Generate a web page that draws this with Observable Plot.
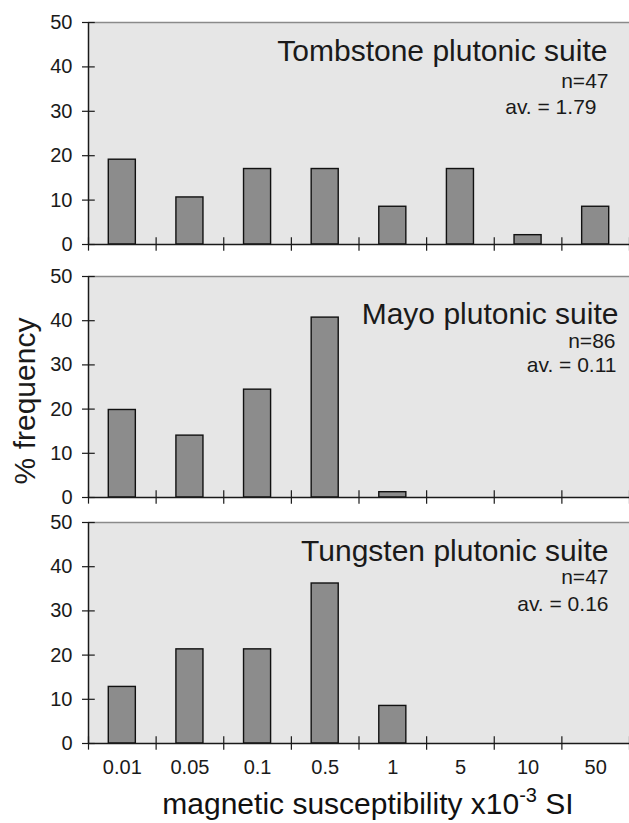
<!DOCTYPE html>
<html><head><meta charset="utf-8">
<script src="https://cdn.jsdelivr.net/npm/d3@7"></script>
<script src="https://cdn.jsdelivr.net/npm/@observablehq/plot@0.6"></script>
<style>
body{margin:0;background:#fff;font-family:"Liberation Sans",Arial,sans-serif;color:#111;}
#chart svg{display:block;overflow:visible}
#xlabel{width:629px;box-sizing:border-box;padding-left:107px;text-align:center;font-size:30px;height:38px;line-height:38px;white-space:nowrap}
#xlabel sup{font-size:20px;vertical-align:12px;line-height:0}
</style></head><body>
<div id="chart"></div>
<div id="xlabel">magnetic susceptibility x10<sup>-3</sup> SI</div>
<script>
const categories = ["0.01", "0.05", "0.1", "0.5", "1", "5", "10", "50"];
const suiteNames = ["Tombstone plutonic suite", "Mayo plutonic suite", "Tungsten plutonic suite"];
const sampleCounts = [47, 86, 47];
const averages = ["1.79", "0.11", "0.16"];
const tombstoneValues = [19.1, 10.6, 17.0, 17.0, 8.5, 17.0, 2.1, 8.5];
const mayoValues = [19.8, 14.0, 24.4, 40.7, 1.2, 0, 0, 0];
const tungstenValues = [12.8, 21.3, 21.3, 36.2, 8.5, 0, 0, 0];
const yTicks = [0, 10, 20, 30, 40, 50];
const yLabel = "% frequency";

const seriesValues = [tombstoneValues, mayoValues, tungstenValues];

// layout per panel (positions/sizes only)
const layout = [
  {height: 260, marginTop: 22, marginBottom: 16, title: [-22, 38], n: [-21, 65], av: [-33, 91]},
  {height: 245, marginTop: 16, marginBottom: 8, title: [-11, 47], n: [-14, 71], av: [-13, 95]},
  {height: 280, marginTop: 17, marginBottom: 42, title: [-21, 38], n: [-21, 61], av: [-21, 88]}
];

const font = '"Liberation Sans", Arial, sans-serif';
const ink = "#1a1a1a";
const chart = document.getElementById("chart");

seriesValues.forEach((values, p) => {
  const L = layout[p];
  const rows = values.map((value, i) => ({i, category: categories[i], value})).filter(d => d.value > 0);
  const isLast = p === seriesValues.length - 1;
  const isMiddle = p === 1;
  const svg = Plot.plot({
    width: 629,
    height: L.height,
    marginLeft: 88,
    marginRight: 0,
    marginTop: L.marginTop,
    marginBottom: L.marginBottom,
    style: {fontFamily: font, fontSize: "20px", color: ink, background: "transparent", overflow: "visible"},
    x: {type: "linear", domain: [0, categories.length], axis: null},
    y: {domain: [0, 50], axis: null},
    marks: [
      Plot.frame({fill: "#e6e6e6", stroke: null}),
      Plot.ruleY([50], {stroke: "#8a8a8a", strokeWidth: 1.5}),
      Plot.rectY(rows, {x1: d => d.i + 0.3, x2: d => d.i + 0.7, y: "value", fill: "#8c8c8c", stroke: "#111", strokeWidth: 1.4}),
      Plot.ruleY(yTicks, {x1: 0, x2: 0.1, stroke: ink, strokeWidth: 1.2}),
      Plot.ruleY([0], {stroke: ink, strokeWidth: 1.5}),
      Plot.ruleX(d3.range(categories.length + 1), {y1: -1.5, y2: 1.5, stroke: ink, strokeWidth: 1.2}),
      Plot.ruleX([0], {y1: 0, y2: 50, stroke: ink, strokeWidth: 1.5}),
      Plot.axisY({ticks: yTicks, tickSize: 6, tickPadding: 10, fontSize: 20, stroke: ink, strokeWidth: 1.2, tickFormat: d => String(d), label: null}),
      isLast ? Plot.axisX({ticks: categories.map((_, i) => i + 0.5), tickSize: 0, tickPadding: 16, fontSize: 20, tickFormat: d => categories[Math.floor(d)], label: null}) : null,
      Plot.text([suiteNames[p]], {frameAnchor: "top-right", textAnchor: "end", lineAnchor: "bottom", dx: L.title[0], dy: L.title[1], fontSize: 30, fill: ink}),
      Plot.text([`n=${sampleCounts[p]}`], {frameAnchor: "top-right", textAnchor: "end", lineAnchor: "bottom", dx: L.n[0], dy: L.n[1], fontSize: 21, fill: ink}),
      Plot.text([`av. = ${averages[p]}`], {frameAnchor: "top-right", textAnchor: "end", lineAnchor: "bottom", dx: L.av[0], dy: L.av[1], fontSize: 21, fill: ink}),
      isMiddle ? Plot.text([yLabel], {frameAnchor: "left", rotate: -90, textAnchor: "middle", lineAnchor: "bottom", dx: -54, dy: 14, fontSize: 30, fill: ink}) : null
    ]
  });
  chart.appendChild(svg);
});
</script>
</body></html>
